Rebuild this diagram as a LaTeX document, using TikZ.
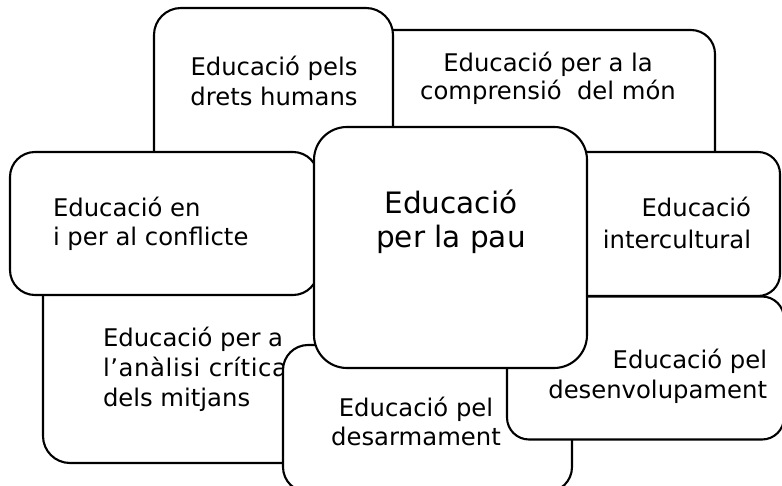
\documentclass[tikz,border=0pt]{standalone}
\usepackage{fontspec}
\setmainfont{DejaVu Sans}
\begin{document}
\begin{tikzpicture}[x=1pt,y=-1pt,
  box/.style={draw=black, fill=white, line width=2.1pt, rectangle, inner sep=0pt, outer sep=0pt},
  lbl/.style={inner sep=0pt, outer sep=0pt, font=\fontsize{24.3}{30}\selectfont},
  big/.style={inner sep=0pt, outer sep=0pt, font=\fontsize{29.5}{34.5}\selectfont}]
\useasboundingbox (0,0) rectangle (782,486);
\clip (0,0) rectangle (782,486);
% comprensio del mon
\node[box, rounded corners=24pt, minimum width=355pt, minimum height=220pt] (comp) at (537.5,140) {};
\node[lbl, align=center, anchor=base, font=\fontsize{24.3}{28}\selectfont] (tcomp) at (548,100) {Educació per a la\\comprensió\ \ del món};
% drets humans
\node[box, rounded corners=27pt, minimum width=239pt, minimum height=232pt] (drets) at (273.5,124) {};
\node[lbl, align=center, anchor=base] (tdrets) at (274,106) {Educació pels\\drets humans};
% intercultural
\node[box, rounded corners=22pt, minimum width=220pt, minimum height=144pt] (inter) at (670,224) {};
\node[lbl, align=right, anchor=base east, font=\fontsize{24.3}{32}\selectfont] (tinter) at (751,249) {Educació\\intercultural};
% analisi critica
\node[box, rounded corners=27pt, minimum width=287pt, minimum height=203pt] (anal) at (186.5,361.5) {};
\node[lbl, align=left, anchor=base west, font=\fontsize{24.3}{29.5}\selectfont] (tanal) at (103,406) {Educació per a\\{\addfontfeatures{LetterSpace=2.5}l’anàlisi crítica}\\dels mitjans};
% conflicte
\node[box, rounded corners=25pt, minimum width=308pt, minimum height=143pt] (conf) at (164,223.5) {};
\node[lbl, align=left, anchor=base west, font=\fontsize{24.3}{29}\selectfont] (tconf) at (53,246) {Educació en\\i per al conflicte};
% desarmament
\node[box, rounded corners=25pt, minimum width=289pt, minimum height=147pt] (desar) at (427.5,418.5) {};
\node[lbl, align=center, anchor=base, font=\fontsize{24.3}{29}\selectfont] (tdesar) at (416,445) {Educació pel\\desarmament};
% desenvolupament
\node[box, rounded corners=22pt, minimum width=277pt, minimum height=143pt] (desen) at (645.5,368) {};
\node[lbl, align=right, anchor=base east, font=\fontsize{24.3}{30}\selectfont] (tdesen) at (767,398) {Educació pel\\desenvolupament};
% central
\node[box, rounded corners=33pt, minimum width=273pt, minimum height=241pt] (pau) at (450.5,247.5) {};
\node[big, align=center, anchor=base] (tpau) at (451,248) {Educació\\per la pau};
\end{tikzpicture}
\end{document}
